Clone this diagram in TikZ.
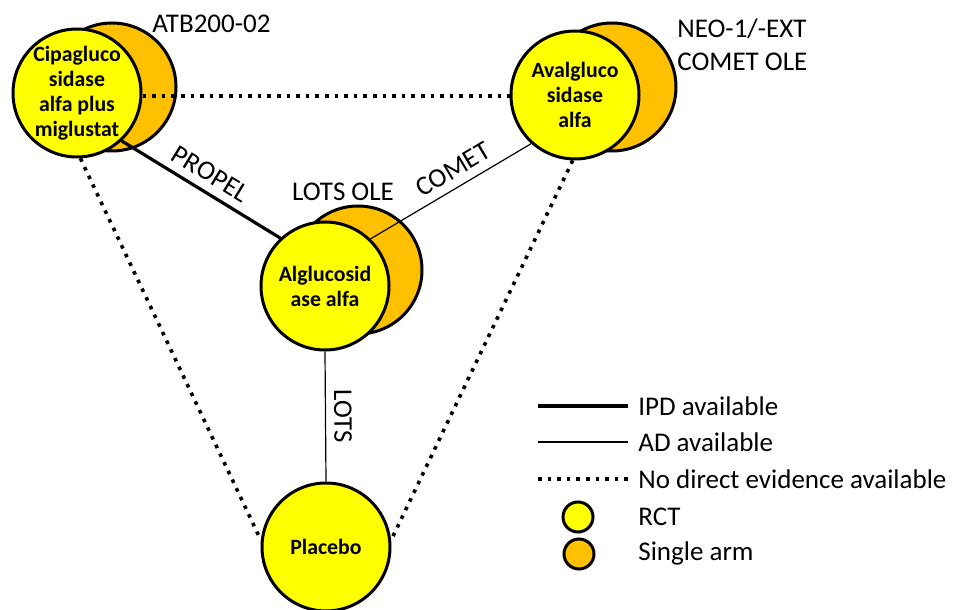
\documentclass[tikz,border=0pt]{standalone}
\usepackage{fontspec}
\setmainfont{Carlito}
\usetikzlibrary{positioning}

\definecolor{rctyellow}{RGB}{255,255,0}
\definecolor{armorange}{RGB}{255,192,0}

\tikzset{
  rct/.style={circle,draw,line width=1.5pt,fill=rctyellow,minimum size=64pt,inner sep=0pt,
    align=center,font=\bfseries\fontsize{10.9}{12.5}\selectfont},
  single/.style={circle,draw,line width=1.5pt,fill=armorange,minimum size=64pt,inner sep=0pt},
  ipd/.style={line width=1.6pt},
  ad/.style={line width=0.6pt},
  nodirect/.style={line width=1.8pt,dash pattern=on 1.8pt off 3pt},
  lbl/.style={font=\fontsize{13.5}{16}\selectfont,inner sep=1pt}
}

\begin{document}
\begin{tikzpicture}[x=0.5pt,y=-0.5pt]
  \useasboundingbox (0,0) rectangle (955,610);

  % single arm studies (behind)
  \node[single] (cipaext) at (112,87) {};
  \node[single] (avalext) at (612,87) {};
  \node[single] (algext)  at (358,270) {};

  % treatments
  \node[rct] (cipa)    at (77,93)   {Cipagluco\\sidase\\alfa plus\\miglustat};
  \node[rct] (aval)    at (575,95)  {Avalgluco\\sidase\\alfa};
  \node[rct] (alg)     at (325,286) {Alglucosid\\ase alfa};
  \node[rct] (placebo) at (326,547) {Placebo};

  % evidence
  \draw[nodirect] (cipa.east |- 0,96) -- (aval.west |- 0,96);
  \draw[ipd] (cipa.313) -- node[lbl,midway,above=3pt,sloped] {PROPEL} (alg.133);
  \draw[ad] (aval.228) -- node[lbl,pos=0.43,above=3pt,sloped] {COMET} (alg.46);
  \draw[ad] (alg.south) -- node[lbl,midway,above=3pt,sloped] {LOTS} (placebo.north);
  \draw[nodirect] (cipa.-87) -- (placebo.174);
  \draw[nodirect] (aval.268) -- (placebo.6);

  % study labels
  \node[lbl,anchor=west] (atb) at (150,24) {ATB200-02};
  \node[lbl,anchor=west] (neo) at (675,29) {NEO-1/-EXT};
  \node[lbl,anchor=west] (cometole) at (675,62) {COMET OLE};
  \node[lbl] (lotsole) at (343,192) {LOTS OLE};

  % legend
  \coordinate (ipdA) at (538,406);
  \coordinate (ipdB) at (628,406);
  \coordinate (adA) at (538,442);
  \coordinate (adB) at (628,442);
  \coordinate (ndA) at (538,479);
  \coordinate (ndB) at (628,479);
  \draw[ipd] (ipdA) -- (ipdB);
  \draw[ad] (adA) -- (adB);
  \draw[nodirect] (ndA) -- (ndB);
  \node[lbl,anchor=west] (ipdtxt) at (636,406) {IPD available};
  \node[lbl,anchor=west] (adtxt) at (636,442) {AD available};
  \node[lbl,anchor=west] (ndtxt) at (636,479) {No direct evidence available};
  \node[rct,minimum size=15pt] (rctkey) at (578,517) {};
  \node[single,minimum size=15pt] (armkey) at (579,554) {};
  \node[lbl,anchor=west] (rcttxt) at (636,517) {RCT};
  \node[lbl,anchor=west] (armtxt) at (636,553) {Single arm};
\end{tikzpicture}
\end{document}
